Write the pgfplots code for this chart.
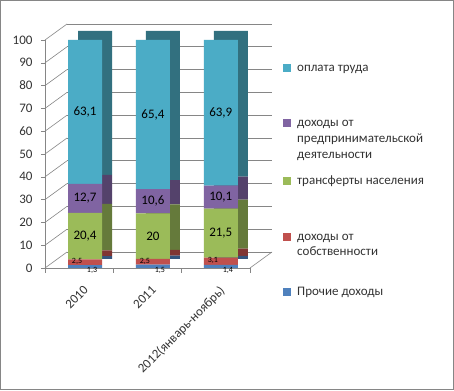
\documentclass[border=0pt]{standalone}
\usepackage{pgfplots}
\pgfplotsset{compat=1.18}
\usepackage{pgfplotstable}
\usepackage{fontspec}
\setmainfont{Carlito}
\definecolor{cOpl}{HTML}{4BACC6}
\definecolor{cPre}{HTML}{8064A2}
\definecolor{cTra}{HTML}{9BBB59}
\definecolor{cSob}{HTML}{C0504D}
\definecolor{cPro}{HTML}{4F81BD}
\definecolor{dOpl}{HTML}{32707F}
\definecolor{dPre}{HTML}{54426B}
\definecolor{dTra}{HTML}{657A3B}
\definecolor{dSob}{HTML}{803533}
\definecolor{dPro}{HTML}{35557E}
\definecolor{gridc}{HTML}{868686}
\definecolor{txt}{HTML}{333333}

\pgfplotstableread{
x pro sob tra pre opl
0 1.3 2.5 20.4 12.7 63.1
1 1.5 2.5 20.0 10.6 65.4
2 1.4 3.1 21.5 10.1 63.9
}\data
% label positions: middle of each stacked segment
\pgfplotstablecreatecol[create col/expr={\thisrow{pro}/2}]{mpro}\data
\pgfplotstablecreatecol[create col/expr={\thisrow{pro}+\thisrow{sob}/2}]{msob}\data
\pgfplotstablecreatecol[create col/expr={\thisrow{pro}+\thisrow{sob}+\thisrow{tra}/2}]{mtra}\data
\pgfplotstablecreatecol[create col/expr={\thisrow{pro}+\thisrow{sob}+\thisrow{tra}+\thisrow{pre}/2}]{mpre}\data
\pgfplotstablecreatecol[create col/expr={\thisrow{pro}+\thisrow{sob}+\thisrow{tra}+\thisrow{pre}+\thisrow{opl}/2}]{mopl}\data

\pgfplotsset{base/.style={scale only axis, width=205pt, height=228pt,
  xmin=-0.59, xmax=2.43, ymin=0, ymax=100, enlargelimits=false, clip=false,
  anchor=south west},
  myaxis/.style={base, ybar stacked, bar width=34pt}}

\begin{document}
\begin{tikzpicture}
\useasboundingbox (0,0) rectangle (454pt,390pt);
\fill[white] (0,0) rectangle (454pt,390pt);
% back wall with grid
\begin{axis}[myaxis, at={(67pt,138pt)},
  axis line style={draw=none}, ytick={0,10,...,100}, yticklabels={},
  xtick=\empty, tick style={draw=none}, ymajorgrids,
  grid style={gridc, line width=0.6pt}]
\addplot[draw=none, fill=none] coordinates {(0,0)};
\end{axis}
% depth of bars
\begin{axis}[myaxis, at={(55pt,131pt)}, hide axis]
\addplot[fill=dPro, draw=none] table[x=x, y=pro] {\data};
\addplot[fill=dSob, draw=none] table[x=x, y=sob] {\data};
\addplot[fill=dTra, draw=none] table[x=x, y=tra] {\data};
\addplot[fill=dPre, draw=none] table[x=x, y=pre] {\data};
\addplot[fill=dOpl, draw=none] table[x=x, y=opl] {\data};
\end{axis}
% side wall diagonals and floor
\foreach \i in {0,...,10} \draw[gridc, line width=0.6pt] (45pt,122pt+22.8pt*\i) -- ++(22pt,16pt);
\draw[gridc, line width=0.6pt] (250pt,122pt) -- ++(22pt,16pt);
% front
\begin{axis}[myaxis, at={(45pt,122pt)},
  axis x line*=bottom, axis y line*=left, axis line style={gridc, line width=0.6pt},
  ytick={0,10,...,100}, ytick style={gridc}, tick align=outside, major tick length=4pt,
  /pgf/number format/assume math mode=true,
  yticklabel style={font=\fontsize{13}{15}\selectfont, text=txt, xshift=-5pt},
  xtick=data, xticklabels={2010,2011,2012(январь-ноябрь)},
  xtick style={draw=none},
  xticklabel style={rotate=45, anchor=north east, font=\fontsize{13}{15}\selectfont, text=txt, xshift=-7pt, yshift=-4pt},
  extra x ticks={-0.59,0.42,1.42,2.43}, extra x tick labels={},
  extra x tick style={xtick style={draw=gridc}, major tick length=5pt}]
\addplot[fill=cPro, draw=none] table[x=x, y=pro] {\data};
\addplot[fill=cSob, draw=none] table[x=x, y=sob] {\data};
\addplot[fill=cTra, draw=none] table[x=x, y=tra] {\data};
\addplot[fill=cPre, draw=none] table[x=x, y=pre] {\data};
\addplot[fill=cOpl, draw=none] table[x=x, y=opl] {\data};
\end{axis}
% value labels
\begin{axis}[base, at={(45pt,122pt)}, hide axis,
  /pgf/number format/use comma, /pgf/number format/assume math mode=true,
  nodes near coords, point meta=explicit,
  every node near coord/.append style={anchor=center, inner sep=0pt, font=\fontsize{13}{15}\selectfont, text=black}]
\addplot[only marks, mark=none, every node near coord/.append style={font=\fontsize{8}{9}\selectfont, xshift=7pt, yshift=-4pt}] table[x=x, y=mpro, meta=pro] {\data};
\addplot[only marks, mark=none, every node near coord/.append style={font=\fontsize{8}{9}\selectfont, xshift=-8pt, yshift=0.5pt}] table[x=x, y=msob, meta=sob] {\data};
\addplot[only marks, mark=none] table[x=x, y=mtra, meta=tra] {\data};
\addplot[only marks, mark=none] table[x=x, y=mpre, meta=pre] {\data};
\addplot[only marks, mark=none] table[x=x, y=mopl, meta=opl] {\data};
\end{axis}
% legend
\begin{scope}[every node/.style={anchor=base west, inner sep=0pt, font=\fontsize{13}{15}\selectfont, text=txt}]
\fill[cOpl] (283pt,318pt) rectangle ++(7.5pt,7.5pt);
\node at (297pt,318pt) {оплата труда};
\fill[cPre] (283pt,263pt) rectangle ++(7.5pt,7.5pt);
\node at (297pt,263pt) {доходы от};
\node at (297pt,247pt) {предпринимательской};
\node at (297pt,231pt) {деятельности};
\fill[cTra] (283pt,205pt) rectangle ++(7.5pt,7.5pt);
\node at (297pt,205pt) {трансферты населения};
\fill[cSob] (283pt,149pt) rectangle ++(7.5pt,7.5pt);
\node at (297pt,149pt) {доходы от};
\node at (297pt,134pt) {собственности};
\fill[cPro] (283pt,94pt) rectangle ++(7.5pt,7.5pt);
\node at (297pt,94pt) {Прочие доходы};
\end{scope}
\draw[gridc, line width=1.3pt] (0.65pt,0.65pt) rectangle (453.35pt,389.35pt);
\end{tikzpicture}
\end{document}
